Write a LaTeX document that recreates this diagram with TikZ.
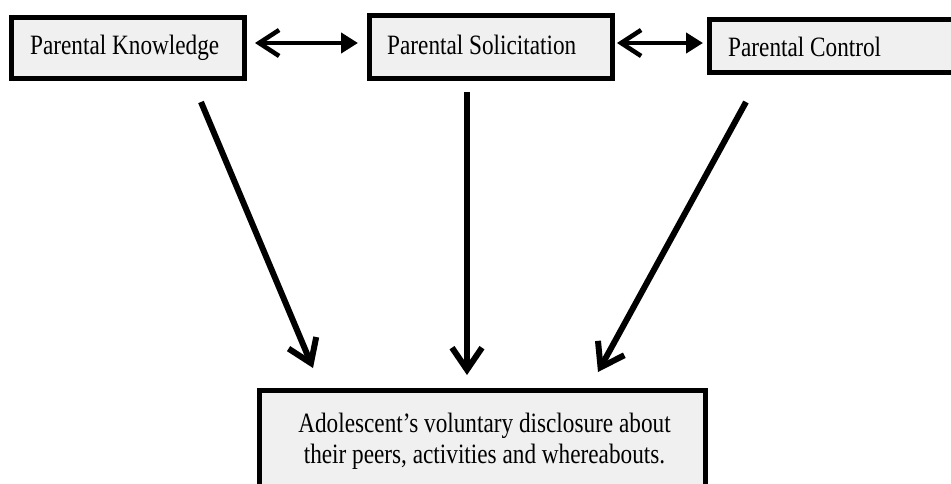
\documentclass[tikz,border=0pt]{standalone}
\usepackage{fontspec}
\setmainfont{Liberation Serif}[FakeStretch=0.83]
\usetikzlibrary{arrows.meta}
\definecolor{boxfill}{HTML}{F0F0F0}
\begin{document}
\begin{tikzpicture}[x=1pt,y=-1pt,
  box/.style={draw=black, line width=5pt, fill=boxfill, rectangle, inner sep=0pt},
  lbl/.style={font=\fontsize{28}{31}\selectfont, inner sep=0pt, anchor=base west},
  dbl/.style={line width=4.5pt, {Straight Barb[length=20pt,width=26pt]}-{Triangle[length=17pt,width=20pt]}},
  down/.style={line width=6pt, -{Straight Barb[length=22pt,width=30pt]}}]
\useasboundingbox (0,0) rectangle (951,483);
\clip (0,0) rectangle (951,483);
\fill[white] (0,0) rectangle (951,483);
% boxes
\node[box, minimum width=233pt, minimum height=61pt] (pk) at (128,48) {};
\node[box, minimum width=243pt, minimum height=63pt] (ps) at (491,47) {};
\node[box, minimum width=270pt, minimum height=53pt] (pc) at (844.5,46) {};
\node[box, minimum width=446pt, minimum height=140pt] (ad) at (482.5,460.5) {};
% labels
\node[lbl] (pkt) at (30,54) {Parental Knowledge};
\node[lbl] (pst) at (387,54) {Parental Solicitation};
\node[lbl] (pct) at (728,56) {Parental Control};
\node[lbl, anchor=center, align=center] (adt) at (484.5,441) {Adolescent’s voluntary disclosure about\\their peers, activities and whereabouts.};
% connector ends
\coordinate (h1a) at (255,43);
\coordinate (h1b) at (358,43);
\coordinate (h2a) at (617,43);
\coordinate (h2b) at (703,43);
\coordinate (d1a) at (201,102);
\coordinate (d1b) at (313,368);
\coordinate (d2a) at (467,92);
\coordinate (d2b) at (467,375);
\coordinate (d3a) at (746,102);
\coordinate (d3b) at (598,372);
\draw[dbl] (h1a) -- (h1b);
\draw[dbl] (h2a) -- (h2b);
\draw[down] (d1a) -- (d1b);
\draw[down] (d2a) -- (d2b);
\draw[down] (d3a) -- (d3b);
\end{tikzpicture}
\end{document}
